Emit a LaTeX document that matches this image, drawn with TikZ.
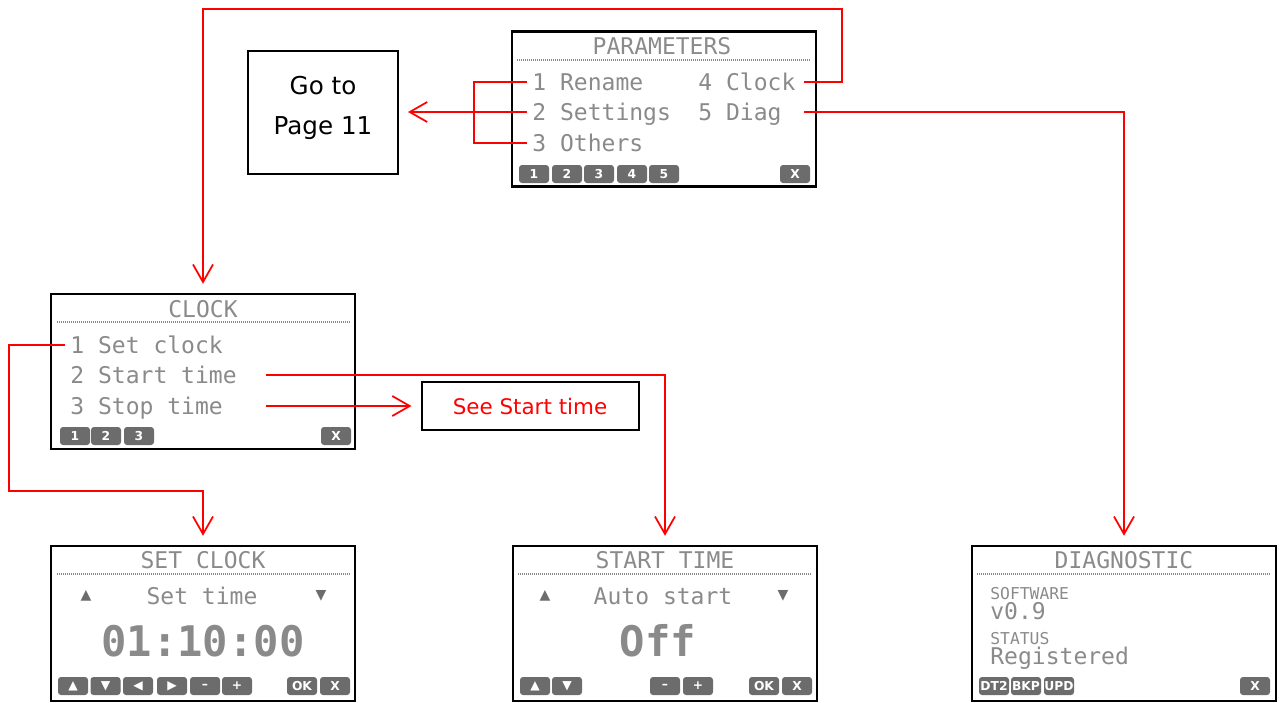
\documentclass[tikz,border=0pt]{standalone}
\usepackage{fontspec}
\setmainfont{DejaVu Sans}
\setmonofont{DejaVu Sans Mono}
\usetikzlibrary{arrows.meta}
\definecolor{signal}{HTML}{FF0000}
\definecolor{lcd}{HTML}{8A8A8A}
\definecolor{keyfill}{HTML}{6C6C6C}

\begin{document}
\begin{tikzpicture}[
  x=0.2mm, y=-0.2mm,
  >={Straight Barb[length=3.5mm,width=4mm]},
  screen/.style={draw=black, line width=0.5mm, minimum width=60.8mm,
                 minimum height=31mm, inner sep=0pt},
  lcdtitle/.style={text=lcd, inner sep=0pt, text height=3.4mm, text depth=0pt,
                   font=\ttfamily\fontsize{13.1}{14}\selectfont},
  lcdrow/.style={lcdtitle, anchor=west, inner sep=1mm},
  lcdbig/.style={lcdtitle, text height=6.2mm,
                 font=\ttfamily\bfseries\fontsize{24}{26}\selectfont},
  lcdsmall/.style={lcdtitle, anchor=west, text height=2.4mm,
                   font=\ttfamily\fontsize{9.3}{10}\selectfont},
  lcdmark/.style={text=keyfill, inner sep=0pt, font=\fontsize{8}{8}\selectfont},
  lcdrule/.style={draw=lcd, line width=0.3mm, dash pattern=on 0.2mm off 0.2mm},
  softkey/.style={fill=keyfill, rounded corners=0.6mm, minimum width=6mm,
                  minimum height=3.6mm, inner sep=0pt, text=white,
                  font=\bfseries\fontsize{7}{7}\selectfont},
  gobox/.style={draw=black, line width=0.4mm, minimum width=30mm,
                minimum height=24.6mm, align=center, text depth=2.8mm,
                font=\fontsize{14}{22.7}\selectfont},
  seebox/.style={draw=black, line width=0.4mm, minimum width=43.4mm,
                 minimum height=9.6mm, text=signal,
                 font=\fontsize{12.2}{14}\selectfont},
  redline/.style={draw=signal, line width=0.35mm},
  redarrow/.style={redline, ->, shorten >=1.8mm},
]
\useasboundingbox (0,0) rectangle (1282,702);

\node[gobox] (go) at (323,112) {Go to\\Page 11};
\node[seebox] (see) at (530,406) {See Start time};

\node[screen] (par) at (664,109) {};
\node[lcdtitle] (partitle) at (662,46) {PARAMETERS};
\draw[lcdrule] (517,60) -- (811,60);
\node[lcdrow] (p1) at (527,82) {1 Rename};
\node[lcdrow] (p2) at (527,112) {2 Settings};
\node[lcdrow] (p3) at (527,143) {3 Others};
\node[lcdrow] (p4) at (693,82) {\makebox[20mm][l]{4 Clock}};
\node[lcdrow] (p5) at (693,112) {\makebox[20mm][l]{5 Diag}};
\foreach \k/\x in {1/534,2/567,3/599,4/632,5/664}
  \node[softkey] (pk\k) at (\x,174) {\k};
\node[softkey] (pkx) at (795,174) {X};

\node[screen] (clk) at (203,371.5) {};
\node[lcdtitle] (clktitle) at (203,309) {CLOCK};
\draw[lcdrule] (57,322) -- (350,322);
\node[lcdrow] (c1) at (65,345) {1 Set clock};
\node[lcdrow] (c2) at (65,375) {\makebox[38mm][l]{2 Start time}};
\node[lcdrow] (c3) at (65,406) {\makebox[38mm][l]{3 Stop time}};
\foreach \k/\x in {1/75,2/106,3/139}
  \node[softkey] (ck\k) at (\x,436) {\k};
\node[softkey] (ckx) at (336,436) {X};

\node[screen] (setc) at (203,623.5) {};
\node[lcdtitle] (setctitle) at (203,560) {SET CLOCK};
\draw[lcdrule] (57,574) -- (350,574);
\node[lcdmark] (setcup) at (86,596) {▲};
\node[lcdtitle] (setcitem) at (202,596) {Set time};
\node[lcdmark] (setcdown) at (321,596) {▼};
\node[lcdbig] (setcvalue) at (203,641) {01:10:00};
\foreach \k/\x/\t in {1/73/▲,2/105.5/▼,3/138/◀,4/172/▶,5/205/–,6/237/+,7/302/OK,8/335/X}
  \node[softkey] (sk\k) at (\x,686) {\t};

\node[screen] (stt) at (665,623.5) {};
\node[lcdtitle] (stttitle) at (665,560) {START TIME};
\draw[lcdrule] (518,574) -- (812,574);
\node[lcdmark] (sttup) at (545,596) {▲};
\node[lcdtitle] (sttitem) at (663,596) {Auto start};
\node[lcdmark] (sttdown) at (783,596) {▼};
\node[lcdbig] (sttvalue) at (658,641) {Off};
\foreach \k/\x/\t in {1/535/▲,2/567/▼,3/665/–,4/698/+,5/764/OK,6/797/X}
  \node[softkey] (tk\k) at (\x,686) {\t};

\node[screen] (diag) at (1124,623.5) {};
\node[lcdtitle] (diagtitle) at (1124,560) {DIAGNOSTIC};
\draw[lcdrule] (977,574) -- (1271,574);
\node[lcdsmall] (swlabel) at (990,593) {SOFTWARE};
\node[lcdrow] (swvalue) at (985,611) {v0.9};
\node[lcdsmall] (stlabel) at (990,638) {STATUS};
\node[lcdrow] (stvalue) at (985,656) {Registered};
\foreach \k/\x/\t in {1/994/DT2,2/1026/BKP,3/1059/UPD,4/1255/X}
  \node[softkey] (dk\k) at (\x,686) {\t};

\draw[redline] (p1.west) -| (474,143) -- (p3.west);
\draw[redarrow] (p2.west) -- (go.east);
\draw[redarrow] (p4.east) -| (842,9) -| (clk.north);
\draw[redarrow] (p5.east) -| (diag.north);
\draw[redarrow] (c1.west) -| (9,491) -| (setc.north);
\draw[redarrow] (c2.east) -| (stt.north);
\draw[redarrow] (c3.east) -- (see.west);
\end{tikzpicture}
\end{document}
